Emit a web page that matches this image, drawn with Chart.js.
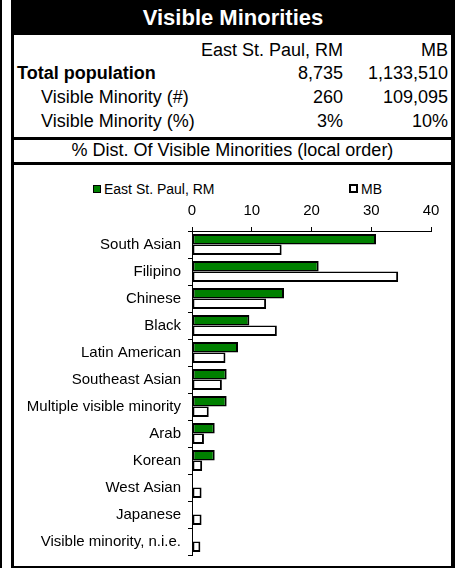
<!DOCTYPE html>
<html>
<head>
<meta charset="utf-8">
<script src="https://cdn.jsdelivr.net/npm/chart.js@4"></script>
<style>
  body { margin: 0; width: 461px; height: 568px; background: #fff; font-family: Arial, "Liberation Sans", sans-serif; position: relative; overflow: hidden; }
  .abs { position: absolute; white-space: nowrap; }
  .txt { font-size: 18px; color: #000; height: 22px; line-height: 22px; }
  .r { text-align: right; }
  .box { position: absolute; box-sizing: border-box; border: 2px solid #000; }
</style>
</head>
<body>
<!-- thin rule on the far left -->
<div class="abs" style="left:0;top:0;width:2px;height:568px;background:#000"></div>

<!-- outer frame -->
<div class="abs" style="left:11px;top:0;width:444px;height:568px;box-sizing:border-box;border-left:3px solid #000;border-right:4px solid #000;border-bottom:2px solid #000"></div>
<div class="abs" style="left:11px;top:0;width:444px;height:35px;background:#000;color:#fff;font-weight:bold;font-size:22px;line-height:35px;text-align:center">Visible Minorities</div>

<div class="abs txt r" style="right:118px;top:39px">East St. Paul, RM</div>
<div class="abs txt r" style="right:13px;top:39px">MB</div>

<div class="abs txt" style="left:17px;top:62px;font-weight:bold">Total population</div>
<div class="abs txt r" style="right:118px;top:62px">8,735</div>
<div class="abs txt r" style="right:13px;top:62px">1,133,510</div>

<div class="abs txt" style="left:41px;top:86px">Visible Minority (#)</div>
<div class="abs txt r" style="right:118px;top:86px">260</div>
<div class="abs txt r" style="right:13px;top:86px">109,095</div>

<div class="abs txt" style="left:41px;top:110px">Visible Minority (%)</div>
<div class="abs txt r" style="right:118px;top:110px">3%</div>
<div class="abs txt r" style="right:13px;top:110px">10%</div>

<div class="abs" style="left:14px;top:137px;width:437px;height:3px;background:#000"></div>
<div class="abs txt" style="left:14px;top:139px;width:437px;text-align:center">% Dist. Of Visible Minorities (local order)</div>
<div class="abs" style="left:14px;top:162px;width:437px;height:3px;background:#000"></div>

<!-- legend -->
<div class="box" style="left:93px;top:185px;width:8px;height:8px;background:#008000;border-width:1px"></div>
<div class="abs" style="left:104px;top:180px;font-size:14px;line-height:18px">East St. Paul, RM</div>
<div class="box" style="left:349px;top:184px;width:9px;height:9px;background:#fff"></div>
<div class="abs" style="left:361px;top:180px;font-size:14px;line-height:18px">MB</div>

<div class="abs" style="left:14px;top:164px;width:437px;height:401px">
  <canvas id="graph"></canvas>
</div>

<script>
const categories = ["South Asian", "Filipino", "Chinese", "Black", "Latin American", "Southeast Asian",
    "Multiple visible minority", "Arab", "Korean", "West Asian", "Japanese", "Visible minority, n.i.e."];
const localValues = [30.8, 21.2, 15.4, 9.6, 7.7, 5.8, 5.8, 3.8, 3.8, 0, 0, 0];
const mbValues = [15.0, 34.5, 12.4, 14.2, 5.6, 5.0, 2.8, 2.0, 1.7, 1.6, 1.6, 1.4];
const xTicks = [0, 10, 20, 30, 40];

const axisFont = { family: "Arial, 'Liberation Sans'", size: 15 };

const data = {
    labels: categories,
    datasets: [{
        label: "East St. Paul, RM",
        data: localValues,
        backgroundColor: "#008000",
        borderWidth: { top: 2, right: 2, bottom: 1.5, left: 2 }
    }, {
        label: "MB",
        data: mbValues,
        backgroundColor: "#ffffff",
        borderWidth: { top: 1.5, right: 2, bottom: 2, left: 2 }
    }]
};

new Chart(document.getElementById("graph"), {
    type: "bar",
    data: data,
    options: {
        indexAxis: "y",
        responsive: true,
        maintainAspectRatio: false,
        animation: false,
        layout: { padding: { top: 0, right: 20, bottom: 10, left: 0 } },
        datasets: {
            bar: {
                borderColor: "#000",
                borderSkipped: false,
                categoryPercentage: 0.78,
                barPercentage: 1
            }
        },
        plugins: { legend: { display: false }, tooltip: { enabled: false } },
        scales: {
            x: {
                position: "top",
                min: xTicks[0],
                max: xTicks[xTicks.length - 1],
                afterBuildTicks: axis => { axis.ticks = xTicks.map(v => ({ value: v })); },
                afterFit: axis => { axis.height = 67; axis.paddingLeft = 0; axis.paddingRight = 0; },
                grid: { drawOnChartArea: false, tickLength: 4, color: "#000" },
                border: { color: "#000" },
                ticks: { color: "#000", padding: 7, font: axisFont }
            },
            y: {
                afterFit: axis => { axis.width = 178; axis.paddingTop = 0; axis.paddingBottom = 0; },
                grid: { drawOnChartArea: false, tickLength: 4, color: "#000" },
                border: { color: "#000" },
                ticks: { color: "#000", padding: 7, font: axisFont }
            }
        }
    }
});
</script>
</body>
</html>
